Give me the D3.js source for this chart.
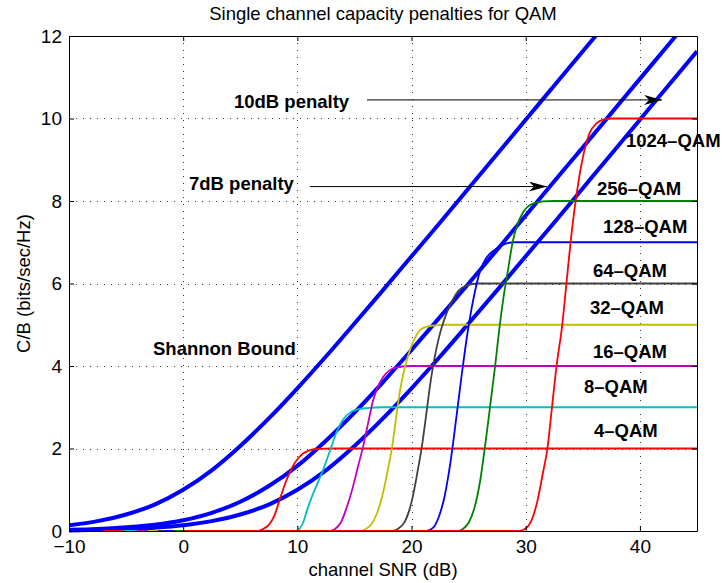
<!DOCTYPE html>
<html>
<head>
<meta charset="utf-8">
<title>Single channel capacity penalties for QAM</title>
<style>
  body { margin: 0; background: #fff; }
  svg text { font-family: "Liberation Sans", Arial, sans-serif; fill: #000; }
  .note { font-weight: bold; font-size: 18.5px; }
</style>
</head>
<body>
<script src="https://cdn.jsdelivr.net/npm/d3@7"></script>
<script>
// SNR grid (dB) used by the three bound curves
var snrGrid = [-10, -7.5, -5, -2.5, 0, 2.5, 5, 7.5, 10, 12.5, 15, 17.5, 20, 22.5, 25, 27.5, 30, 32.5, 35, 37.5, 40, 42.5, 45];
var shannon   = [0.14, 0.24, 0.40, 0.64, 1.00, 1.47, 2.06, 2.73, 3.46, 4.23, 5.03, 5.84, 6.66, 7.48, 8.31, 9.14, 9.97, 10.80, 11.63, 12.46];
var penalty7  = [0.03, 0.05, 0.09, 0.15, 0.26, 0.44, 0.71, 1.09, 1.58, 2.19, 2.87, 3.61, 4.39, 5.19, 6.00, 6.82, 7.65, 8.48, 9.30, 10.13, 10.96, 11.79, 12.62];
var penalty10 = [0.01, 0.03, 0.04, 0.08, 0.14, 0.24, 0.40, 0.64, 1.00, 1.47, 2.06, 2.73, 3.46, 4.23, 5.03, 5.84, 6.66, 7.48, 8.31, 9.14, 9.97, 10.80, 11.63];

// QAM capacity curves, [SNR dB, bits/sec/Hz]
var qam4 = [[-7,0],[6.5,0],[7,0.05],[7.5,0.15],[8,0.38],[8.5,0.8],[9,1.2],[9.5,1.52],[10,1.74],[10.5,1.88],[11,1.95],[11.7,1.99],[13,2],[45,2]];
var qam8 = [[-5.3,0],[9.8,0],[10.2,0.06],[10.5,0.2],[10.84,0.5],[11.3,0.85],[11.8,1.18],[12.25,1.48],[12.9,1.98],[13.47,2.42],[14,2.7],[14.6,2.87],[15.3,2.95],[16.1,2.98],[17.5,3],[45,3]];
var qam16 = [[-4,0],[12.8,0],[13.3,0.05],[13.8,0.2],[14.3,0.55],[14.87,1.07],[15.3,1.55],[15.75,2.04],[16.2,2.62],[16.62,3.15],[17.05,3.5],[17.5,3.73],[18.1,3.9],[18.73,3.97],[20,4],[45,4]];
var qam32 = [[-3.1,0],[15.4,0],[16,0.05],[16.5,0.17],[17,0.45],[17.5,0.92],[17.9,1.45],[18.3,2.04],[18.65,2.75],[19,3.42],[19.4,3.95],[19.86,4.39],[20.3,4.68],[20.74,4.87],[21.3,4.95],[21.9,4.98],[23,5],[45,5]];
var qam64 = [[-2.2,0],[18.2,0],[18.8,0.05],[19.4,0.22],[19.8,0.5],[20.1,0.82],[20.5,1.4],[20.9,2.04],[21.3,2.85],[21.6,3.49],[22.2,4.45],[22.6,4.9],[23.1,5.3],[23.6,5.6],[24.1,5.82],[24.8,5.95],[25.8,6],[45,6]];
var qam128 = [[-1.6,0],[21.3,0],[21.9,0.08],[22.4,0.35],[22.9,0.85],[23.4,1.65],[23.9,2.7],[24.4,3.8],[24.9,4.8],[25.4,5.6],[26,6.3],[26.5,6.6],[27.1,6.78],[28.2,6.96],[29,7],[45,7]];
var qam256 = [[-0.9,0],[24,0],[24.5,0.05],[25,0.2],[25.5,0.55],[26,1.2],[26.43,2.04],[26.87,3],[27.31,3.98],[27.75,5.04],[28.1,5.75],[28.4,6.25],[28.89,7.05],[29.3,7.45],[29.76,7.72],[30.5,7.92],[31.5,7.99],[32.5,8],[45,8]];
var qam1024 = [[0,0],[29.4,0],[30,0.06],[30.5,0.25],[31,0.7],[31.5,1.4],[31.9,2],[32.3,3],[32.7,4],[33.2,5],[33.6,6.1],[34.05,7.3],[34.5,8.25],[35,9.05],[35.6,9.65],[36.2,9.88],[36.8,9.97],[37.6,10],[45,10]];

var qamNames = ["4-QAM", "8-QAM", "16-QAM", "32-QAM", "64-QAM", "128-QAM", "256-QAM", "1024-QAM"];
var qamLabels = ["4\u2013QAM", "8\u2013QAM", "16\u2013QAM", "32\u2013QAM", "64\u2013QAM", "128\u2013QAM", "256\u2013QAM", "1024\u2013QAM"];
var qamColors = ["#ff0000", "#00bfbf", "#bf00bf", "#bfbf00", "#404040", "#0000ff", "#008000", "#ff0000"];
// label anchors in data units [SNR, C/B]
var qamLabelPos = [[35.98, 2.28], [35.1, 3.35], [35.89, 4.19], [35.63, 5.26], [35.89, 6.16], [36.77, 7.22], [36.24, 8.15], [38.78, 9.31]];

var xTicks = [-10, 0, 10, 20, 30, 40];
var yTicks = [0, 2, 4, 6, 8, 10, 12];

var width = 722, height = 583;
var padL = 69, padR = 697, padT = 36, padB = 531;

var x = d3.scaleLinear().domain([-10, 45]).range([padL, padR]);
var y = d3.scaleLinear().domain([0, 12]).range([padB, padT]);

var svg = d3.select("body").append("svg")
  .attr("width", width).attr("height", height)
  .style("display", "block");

svg.append("rect").attr("width", width).attr("height", height).attr("fill", "#fff");

var defs = svg.append("defs");
defs.append("clipPath").attr("id", "plot")
  .append("rect").attr("x", padL).attr("y", padT)
  .attr("width", padR - padL).attr("height", padB - padT + 2);
defs.append("marker").attr("id", "arrow")
  .attr("viewBox", "0 0 18 10").attr("refX", 18).attr("refY", 5)
  .attr("markerWidth", 18).attr("markerHeight", 10)
  .attr("markerUnits", "userSpaceOnUse").attr("orient", "auto")
  .append("path").attr("d", "M0,0 L18,5 L0,10 L5,5 Z").attr("fill", "#000");

// grid
var grid = svg.append("g").attr("stroke", "#000").attr("stroke-width", 1)
  .attr("stroke-dasharray", "1,6").attr("opacity", 0.8);
grid.selectAll("line.vx").data(xTicks.filter(function(d){ return d > -10; }))
  .enter().append("line")
  .attr("x1", function(d){ return Math.round(x(d)) + 0.5; })
  .attr("x2", function(d){ return Math.round(x(d)) + 0.5; })
  .attr("y1", padT).attr("y2", padB);
grid.selectAll("line.hy").data(yTicks.filter(function(d){ return d > 0 && d < 12; }))
  .enter().append("line")
  .attr("y1", function(d){ return Math.round(y(d)) + 0.5; })
  .attr("y2", function(d){ return Math.round(y(d)) + 0.5; })
  .attr("x1", padL).attr("x2", padR);

var plot = svg.append("g").attr("clip-path", "url(#plot)");

// bound curves
var curveLine = d3.line()
  .x(function(d){ return x(d[0]); })
  .y(function(d){ return y(d[1]); })
  .curve(d3.curveMonotoneX);

[shannon, penalty7, penalty10].forEach(function(vals) {
  var pts = vals.map(function(v, i){ return [snrGrid[i], v]; });
  plot.append("path").datum(pts)
    .attr("fill", "none").attr("stroke", "#0000ff")
    .attr("stroke-width", 4).attr("d", curveLine);
});

// QAM curves
[qam4, qam8, qam16, qam32, qam64, qam128, qam256, qam1024].forEach(function(pts, i) {
  plot.append("path").datum(pts)
    .attr("class", "qam " + qamNames[i])
    .attr("fill", "none").attr("stroke", qamColors[i])
    .attr("stroke-width", 1.8).attr("d", curveLine);
});

// axes (box with inward ticks)
var axB = svg.append("g").attr("transform", "translate(0," + padB + ")")
  .call(d3.axisBottom(x).tickValues(xTicks).tickSize(-5).tickSizeOuter(0).tickPadding(8.5));
var axL = svg.append("g").attr("transform", "translate(" + padL + ",0)")
  .call(d3.axisLeft(y).tickValues(yTicks).tickSize(-5).tickSizeOuter(0).tickPadding(7));
svg.append("g").attr("transform", "translate(0," + padT + ")")
  .call(d3.axisTop(x).tickValues(xTicks).tickSize(-5).tickSizeOuter(0).tickFormat(""));
svg.append("g").attr("transform", "translate(" + padR + ",0)")
  .call(d3.axisRight(y).tickValues(yTicks).tickSize(-5).tickSizeOuter(0).tickFormat(""));
svg.selectAll(".domain").attr("stroke", "#000").attr("stroke-width", 1);
svg.selectAll(".tick line").attr("stroke", "#000");
[axB, axL].forEach(function(a) {
  a.selectAll("text").attr("font-family", "Liberation Sans, Arial, sans-serif")
    .attr("font-size", 19).attr("fill", "#000");
});

// titles
svg.append("text").attr("x", (padL + padR) / 2).attr("y", 20)
  .attr("text-anchor", "middle").attr("font-size", 18.5)
  .text("Single channel capacity penalties for QAM");
svg.append("text").attr("x", (padL + padR) / 2).attr("y", 576)
  .attr("text-anchor", "middle").attr("font-size", 18.5)
  .text("channel SNR (dB)");
svg.append("text")
  .attr("transform", "translate(30," + ((padT + padB) / 2) + ") rotate(-90)")
  .attr("text-anchor", "middle").attr("font-size", 18.5)
  .text("C/B (bits/sec/Hz)");

// annotations
svg.append("text").attr("class", "note").attr("x", x(-2.64)).attr("y", y(4.27)).text("Shannon Bound");
svg.append("text").attr("class", "note").attr("x", x(4.45)).attr("y", y(10.25)).text("10dB penalty");
svg.append("text").attr("class", "note").attr("x", x(0.51)).attr("y", y(8.27)).text("7dB penalty");

svg.append("line").attr("x1", x(16.1)).attr("y1", y(10.45)).attr("x2", x(41.94)).attr("y2", y(10.45))
  .attr("stroke", "#000").attr("stroke-width", 1).attr("marker-end", "url(#arrow)");
svg.append("line").attr("x1", x(11.1)).attr("y1", y(8.35)).attr("x2", x(31.86)).attr("y2", y(8.35))
  .attr("stroke", "#000").attr("stroke-width", 1).attr("marker-end", "url(#arrow)");

svg.selectAll("text.qamlabel").data(qamLabels).enter().append("text")
  .attr("class", "note qamlabel")
  .attr("x", function(d, i){ return x(qamLabelPos[i][0]); })
  .attr("y", function(d, i){ return y(qamLabelPos[i][1]); })
  .text(function(d){ return d; });
</script>
</body>
</html>
